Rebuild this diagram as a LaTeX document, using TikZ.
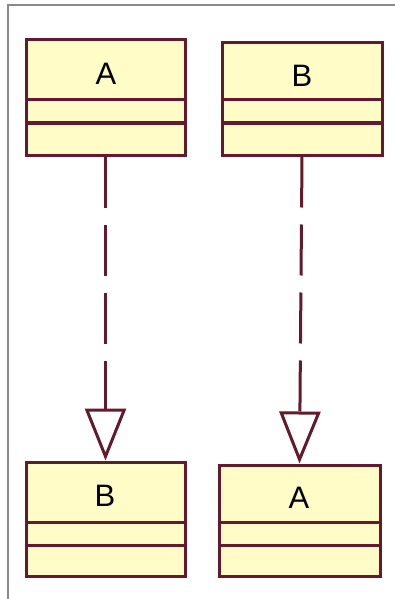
\documentclass[tikz,border=0pt]{standalone}
\usepackage{fontspec}
\setmainfont{Liberation Sans}
\usetikzlibrary{arrows.meta}
\definecolor{umlborder}{HTML}{621A2C}
\definecolor{umlfill}{HTML}{FFFCC8}
\definecolor{framegray}{HTML}{8A8A8A}
\begin{document}
\begin{tikzpicture}[x=1pt,y=-1pt,
  classbox/.style={draw=umlborder,fill=umlfill,line width=3pt,inner sep=0pt,minimum width=#1},
  classname/.style={font=\fontsize{31}{31}\selectfont,inner sep=0pt,anchor=center},
  divider/.style={draw=umlborder,line width=3pt},
  realize/.style={draw=umlborder,line width=3pt,dash pattern=on 51pt off 17pt,
    -{Triangle[open,length=52pt,width=41pt,line width=3pt]}}
]
\useasboundingbox (0,0) rectangle (395,599);
\fill[white] (0,0) rectangle (395,599);
\draw[framegray,line width=1.8pt] (8,600) -- (8,5) -- (396,5);

% top row
\node[classbox=159pt,minimum height=115pt] (a1) at (105.5,97.5) {};
\node[classbox=160pt,minimum height=112pt] (b1) at (302,99) {};
% bottom row
\node[classbox=159pt,minimum height=114pt] (b2) at (105.5,519) {};
\node[classbox=161pt,minimum height=111pt] (a2) at (299.5,520.5) {};

% compartments
\draw[divider] (a1.west |- 0,100) -- (a1.east |- 0,100);
\draw[divider] (a1.west |- 0,123) -- (a1.east |- 0,123);
\draw[divider] (b1.west |- 0,100) -- (b1.east |- 0,100);
\draw[divider] (b1.west |- 0,123) -- (b1.east |- 0,123);
\draw[divider] (b2.west |- 0,522) -- (b2.east |- 0,522);
\draw[divider] (b2.west |- 0,545) -- (b2.east |- 0,545);
\draw[divider] (a2.west |- 0,522) -- (a2.east |- 0,522);
\draw[divider] (a2.west |- 0,545) -- (a2.east |- 0,545);

% names
\node[classname] (ta1) at (106,74) {A};
\node[classname] (tb1) at (302,76) {B};
\node[classname] (tb2) at (105,496) {B};
\node[classname] (ta2) at (299,498) {A};

% realizations
\draw[realize] (a1.south) -- (b2.north);
\draw[realize] (b1.south) -- (a2.north);
\end{tikzpicture}
\end{document}
